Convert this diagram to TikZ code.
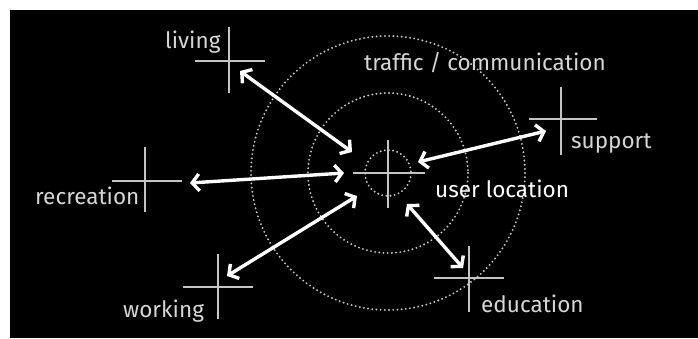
\documentclass[tikz,border=0pt]{standalone}
\usepackage{fontspec}
\setmainfont{Fira Sans}
\usetikzlibrary{arrows.meta}
\definecolor{labelgrey}{HTML}{D6D6D6}
\definecolor{crossgrey}{HTML}{C4C4C4}
\definecolor{ringgrey}{HTML}{C8C8C8}
\begin{document}
\begin{tikzpicture}[x=1bp,y=-1bp,
  lbl/.style={text=labelgrey,font=\fontsize{22.6}{23}\selectfont,inner sep=0pt,anchor=base west},
  crossline/.style={draw=crossgrey,line width=1.5bp},
  ring/.style={draw=ringgrey,line width=2.1bp,line cap=round,dash pattern=on 0bp off 4.2bp},
  link/.style={draw=white,line width=3.4bp,{Straight Barb[length=7bp,width=17bp]}-{Straight Barb[length=7bp,width=17bp]}}]
% background
\useasboundingbox (0,0) rectangle (698,338);
\fill[white] (0,0) rectangle (698,338);
\fill[black] (10,10) rectangle (698,338);
% rings
\coordinate (c) at (388,173);
\draw[ring] (c) circle[radius=23];
\draw[ring] (c) circle[radius=80];
\draw[ring] (c) circle[radius=137];
% crosses
\draw[crossline] (353,173) -- (425,173) (388,140) -- (388,208);
\draw[crossline] (195,61) -- (265,61) (229,27) -- (229,93);
\draw[crossline] (112,181) -- (182,181) (145,147) -- (145,212);
\draw[crossline] (183,287) -- (253,287) (218,254) -- (218,319);
\draw[crossline] (529,119) -- (597,119) (561,87) -- (561,155);
\draw[crossline] (434,278) -- (504,278) (469,246) -- (469,312);
% labels
\node[lbl] (living) at (165,48) {living};
\node[lbl] (recreation) at (35,204) {recreation};
\node[lbl] (working) at (123,317) {working};
\node[lbl] (support) at (571,148) {support};
\node[lbl] (education) at (481,312) {education};
\node[lbl] (traffic) at (364,70) {traffic / communication};
\node[lbl,text=white] (user) at (435,197) {user location};
% arrow ends
\coordinate (livA) at (240,71);  \coordinate (livB) at (352,152);
\coordinate (recA) at (190,183); \coordinate (recB) at (344,173);
\coordinate (worA) at (227,276); \coordinate (worB) at (357,196);
\coordinate (supA) at (418,162); \coordinate (supB) at (546,131);
\coordinate (eduA) at (407,204); \coordinate (eduB) at (463,268);
\draw[link] (livA) -- (livB);
\draw[link] (recA) -- (recB);
\draw[link] (worA) -- (worB);
\draw[link] (supA) -- (supB);
\draw[link] (eduA) -- (eduB);
\end{tikzpicture}
\end{document}
